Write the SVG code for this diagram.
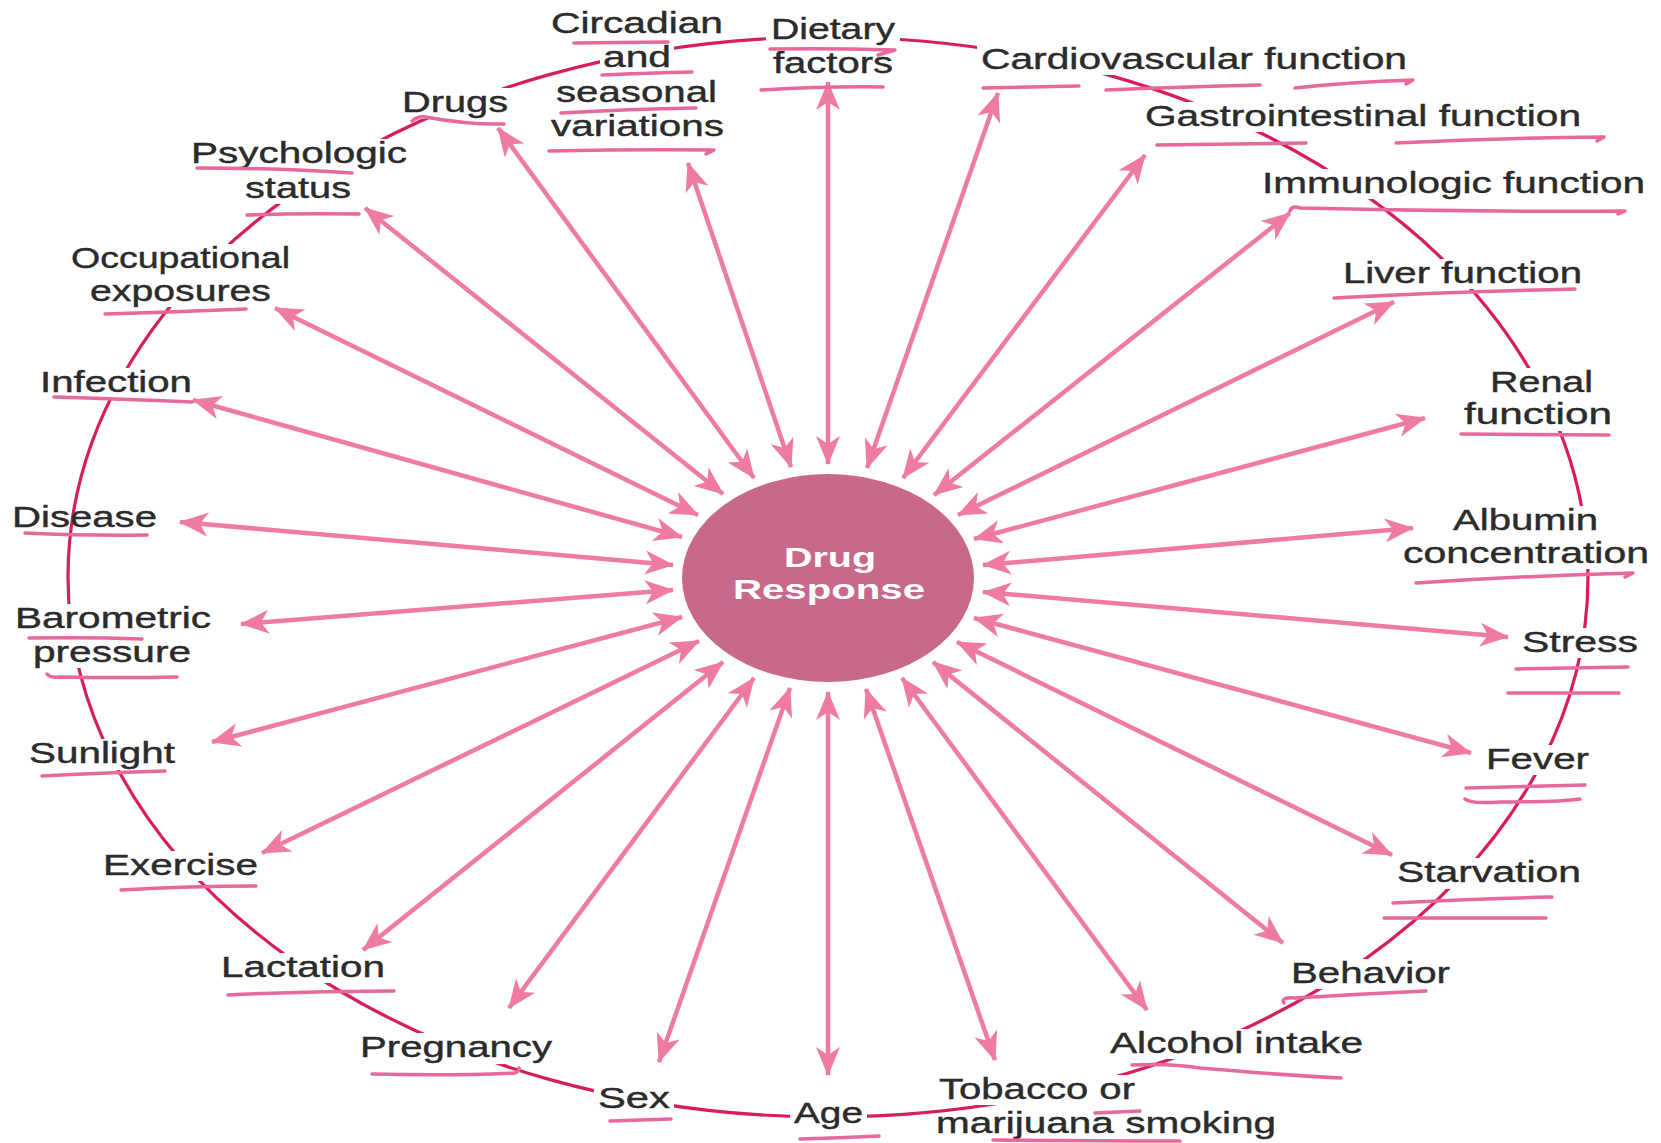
<svg xmlns="http://www.w3.org/2000/svg" width="1661" height="1143" viewBox="0 0 1661 1143">
<style>
.lbl{font-family:"Liberation Sans",Arial,Helvetica,sans-serif;font-size:29px;fill:#2b2b2b;stroke:#2b2b2b;stroke-width:0.4}
.bg{fill:#ffffff}
.ring{fill:none;stroke:#D91C5C;stroke-width:3.2}
.arr{stroke:#EF7BA2;stroke-width:4.5;fill:none;marker-start:url(#ah);marker-end:url(#ah)}
.ul{fill:none;stroke:#E8689B;stroke-width:3.5;stroke-linecap:round;stroke-linejoin:round}
.ctr{font-family:"Liberation Sans",Arial,Helvetica,sans-serif;font-size:28px;font-weight:bold;fill:#ffffff}
</style>
<defs>
<marker id="ah" viewBox="-30 -14 32 28" refX="0" refY="0" markerWidth="32" markerHeight="28" markerUnits="userSpaceOnUse" orient="auto-start-reverse">
<path d="M1,0 L-28,-12 L-20,0 L-28,12 Z" fill="#EF7BA2"/>
</marker>
</defs>
<rect width="1661" height="1143" fill="#ffffff"/>
<g id="ring"><ellipse class="ring" cx="828" cy="577" rx="760" ry="540"/></g>

<g id="labels">
<g id="n-circadian"><rect class="bg" x="600" y="45" width="74" height="28"/><text class="lbl" x="551" y="33" textLength="172" lengthAdjust="spacingAndGlyphs">Circadian</text><text class="lbl" x="603" y="67" textLength="68" lengthAdjust="spacingAndGlyphs">and</text><text class="lbl" x="556" y="102" textLength="161" lengthAdjust="spacingAndGlyphs">seasonal</text><text class="lbl" x="551" y="136" textLength="173" lengthAdjust="spacingAndGlyphs">variations</text></g>
<g id="n-dietary"><rect class="bg" x="766" y="15" width="134" height="64"/><text class="lbl" x="771" y="39" textLength="124" lengthAdjust="spacingAndGlyphs">Dietary</text><text class="lbl" x="773" y="73" textLength="120" lengthAdjust="spacingAndGlyphs">factors</text></g>
<g id="n-cardio"><rect class="bg" x="977" y="45" width="434" height="30"/><text class="lbl" x="981" y="69" textLength="426" lengthAdjust="spacingAndGlyphs">Cardiovascular function</text></g>
<g id="n-gastro"><rect class="bg" x="1141" y="102" width="444" height="30"/><text class="lbl" x="1145" y="126" textLength="436" lengthAdjust="spacingAndGlyphs">Gastrointestinal function</text></g>
<g id="n-immuno"><rect class="bg" x="1258" y="169" width="391" height="30"/><text class="lbl" x="1262" y="193" textLength="383" lengthAdjust="spacingAndGlyphs">Immunologic function</text></g>
<g id="n-liver"><rect class="bg" x="1339" y="259" width="247" height="30"/><text class="lbl" x="1343" y="283" textLength="239" lengthAdjust="spacingAndGlyphs">Liver function</text></g>
<g id="n-renal"><rect class="bg" x="1460" y="368" width="156" height="63"/><text class="lbl" x="1490" y="392" textLength="103" lengthAdjust="spacingAndGlyphs">Renal</text><text class="lbl" x="1464" y="424" textLength="148" lengthAdjust="spacingAndGlyphs">function</text></g>
<g id="n-albumin"><rect class="bg" x="1400" y="506" width="252" height="63"/><text class="lbl" x="1453" y="530" textLength="145" lengthAdjust="spacingAndGlyphs">Albumin</text><text class="lbl" x="1403" y="563" textLength="246" lengthAdjust="spacingAndGlyphs">concentration</text></g>
<g id="n-stress"><rect class="bg" x="1519" y="628" width="122" height="30"/><text class="lbl" x="1522" y="652" textLength="116" lengthAdjust="spacingAndGlyphs">Stress</text></g>
<g id="n-fever"><rect class="bg" x="1483" y="745" width="109" height="30"/><text class="lbl" x="1486" y="769" textLength="103" lengthAdjust="spacingAndGlyphs">Fever</text></g>
<g id="n-starvation"><rect class="bg" x="1394" y="858" width="190" height="31"/><text class="lbl" x="1397" y="882" textLength="184" lengthAdjust="spacingAndGlyphs">Starvation</text></g>
<g id="n-behavior"><rect class="bg" x="1288" y="959" width="165" height="30"/><text class="lbl" x="1291" y="983" textLength="159" lengthAdjust="spacingAndGlyphs">Behavior</text></g>
<g id="n-alcohol"><rect class="bg" x="1107" y="1029" width="259" height="30"/><text class="lbl" x="1110" y="1053" textLength="253" lengthAdjust="spacingAndGlyphs">Alcohol intake</text></g>
<g id="n-tobacco"><rect class="bg" x="934" y="1075" width="206" height="30"/><text class="lbl" x="939" y="1099" textLength="196" lengthAdjust="spacingAndGlyphs">Tobacco or</text><text class="lbl" x="936" y="1133" textLength="340" lengthAdjust="spacingAndGlyphs">marijuana smoking</text></g>
<g id="n-age"><rect class="bg" x="790" y="1099" width="77" height="31"/><text class="lbl" x="794" y="1123" textLength="69" lengthAdjust="spacingAndGlyphs">Age</text></g>
<g id="n-sex"><rect class="bg" x="594" y="1084" width="80" height="30"/><text class="lbl" x="598" y="1108" textLength="72" lengthAdjust="spacingAndGlyphs">Sex</text></g>
<g id="n-pregnancy"><rect class="bg" x="356" y="1033" width="200" height="31"/><text class="lbl" x="360" y="1057" textLength="192" lengthAdjust="spacingAndGlyphs">Pregnancy</text></g>
<g id="n-lactation"><rect class="bg" x="218" y="953" width="170" height="30"/><text class="lbl" x="221" y="977" textLength="164" lengthAdjust="spacingAndGlyphs">Lactation</text></g>
<g id="n-exercise"><rect class="bg" x="101" y="851" width="159" height="30"/><text class="lbl" x="103" y="875" textLength="155" lengthAdjust="spacingAndGlyphs">Exercise</text></g>
<g id="n-sunlight"><rect class="bg" x="26" y="739" width="152" height="31"/><text class="lbl" x="29" y="763" textLength="146" lengthAdjust="spacingAndGlyphs">Sunlight</text></g>
<g id="n-barometric"><rect class="bg" x="12" y="604" width="202" height="64"/><text class="lbl" x="15" y="628" textLength="196" lengthAdjust="spacingAndGlyphs">Barometric</text><text class="lbl" x="33" y="662" textLength="158" lengthAdjust="spacingAndGlyphs">pressure</text></g>
<g id="n-disease"><text class="lbl" x="12" y="527" textLength="145" lengthAdjust="spacingAndGlyphs">Disease</text></g>
<g id="n-infection"><rect class="bg" x="37" y="368" width="156" height="30"/><text class="lbl" x="40" y="392" textLength="152" lengthAdjust="spacingAndGlyphs">Infection</text></g>
<g id="n-occupational"><rect class="bg" x="68" y="244" width="225" height="63"/><text class="lbl" x="71" y="268" textLength="219" lengthAdjust="spacingAndGlyphs">Occupational</text><text class="lbl" x="90" y="301" textLength="181" lengthAdjust="spacingAndGlyphs">exposures</text></g>
<g id="n-psychologic"><rect class="bg" x="188" y="139" width="222" height="65"/><text class="lbl" x="191" y="163" textLength="216" lengthAdjust="spacingAndGlyphs">Psychologic</text><text class="lbl" x="245" y="198" textLength="106" lengthAdjust="spacingAndGlyphs">status</text></g>
<g id="n-drugs"><rect class="bg" x="399" y="88" width="112" height="31"/><text class="lbl" x="402" y="112" textLength="106" lengthAdjust="spacingAndGlyphs">Drugs</text></g>
</g>

<g id="connectors">
<line class="arr" x1="498" y1="128" x2="754" y2="478"/>
<line class="arr" x1="688" y1="163" x2="791" y2="467"/>
<line class="arr" x1="828" y1="82" x2="828" y2="464"/>
<line class="arr" x1="998" y1="93" x2="867" y2="468"/>
<line class="arr" x1="1145" y1="155" x2="903" y2="478"/>
<line class="arr" x1="1290" y1="213" x2="934" y2="495"/>
<line class="arr" x1="1394" y1="302" x2="958" y2="515"/>
<line class="arr" x1="1425" y1="418" x2="974" y2="539"/>
<line class="arr" x1="1413" y1="528" x2="983" y2="565"/>
<line class="arr" x1="1508" y1="637" x2="983" y2="592"/>
<line class="arr" x1="1471" y1="753" x2="974" y2="618"/>
<line class="arr" x1="1392" y1="855" x2="957" y2="642"/>
<line class="arr" x1="1283" y1="943" x2="933" y2="662"/>
<line class="arr" x1="1147" y1="1010" x2="902" y2="678"/>
<line class="arr" x1="995" y1="1060" x2="866" y2="689"/>
<line class="arr" x1="828" y1="1075" x2="828" y2="692"/>
<line class="arr" x1="659" y1="1062" x2="790" y2="688"/>
<line class="arr" x1="509" y1="1008" x2="754" y2="678"/>
<line class="arr" x1="363" y1="950" x2="723" y2="662"/>
<line class="arr" x1="262" y1="853" x2="699" y2="641"/>
<line class="arr" x1="212" y1="742" x2="682" y2="617"/>
<line class="arr" x1="241" y1="624" x2="673" y2="590"/>
<line class="arr" x1="180" y1="522" x2="673" y2="565"/>
<line class="arr" x1="193" y1="400" x2="682" y2="537"/>
<line class="arr" x1="275" y1="308" x2="698" y2="515"/>
<line class="arr" x1="365" y1="208" x2="723" y2="494"/>
</g>

<g id="n-center">
<ellipse cx="828" cy="578" rx="146" ry="104" fill="#C8698B"/>
<text class="ctr" x="784" y="567" textLength="92" lengthAdjust="spacingAndGlyphs">Drug</text>
<text class="ctr" x="733" y="599" textLength="192" lengthAdjust="spacingAndGlyphs">Response</text>
</g>

<g id="underlines">
<path class="ul" d="M574,43 L668,42"/>
<path class="ul" d="M602,75 Q650,73 692,72"/>
<path class="ul" d="M561,113 Q630,109 696,108"/>
<path class="ul" d="M549,151 Q640,149 714,150 L706,154"/>
<path class="ul" d="M770,49 Q830,48 895,50 L878,55"/>
<path class="ul" d="M761,90 Q830,86 883,87"/>
<path class="ul" d="M983,88 L1079,86"/>
<path class="ul" d="M1106,90 Q1180,87 1260,85"/>
<path class="ul" d="M1295,88 Q1350,82 1413,80 L1406,84"/>
<path class="ul" d="M1157,145 L1306,143"/>
<path class="ul" d="M1396,143 Q1500,138 1604,137 L1597,141"/>
<path class="ul" d="M1290,211 Q1292,205 1300,208 Q1460,212 1625,211 L1618,214"/>
<path class="ul" d="M1334,298 Q1450,292 1575,289"/>
<path class="ul" d="M1461,434 L1609,435"/>
<path class="ul" d="M1416,583 Q1520,576 1633,573 L1625,577"/>
<path class="ul" d="M1516,669 L1628,667"/>
<path class="ul" d="M1508,693 L1619,693"/>
<path class="ul" d="M1466,788 L1585,785"/>
<path class="ul" d="M1465,799 Q1470,804 1500,802 Q1560,802 1580,799"/>
<path class="ul" d="M1393,903 Q1470,899 1552,897"/>
<path class="ul" d="M1384,918 L1546,918"/>
<path class="ul" d="M1284,1003 Q1280,997 1295,998 Q1360,994 1426,991"/>
<path class="ul" d="M1132,1065 Q1170,1063 1200,1068 Q1280,1075 1341,1078"/>
<path class="ul" d="M1095,1113 L1140,1111"/>
<path class="ul" d="M993,1140 Q1090,1141 1180,1141"/>
<path class="ul" d="M800,1139 Q840,1138 879,1136"/>
<path class="ul" d="M610,1121 L671,1119"/>
<path class="ul" d="M372,1074 Q450,1076 515,1073 Q520,1071 519,1068"/>
<path class="ul" d="M228,995 Q310,991 394,991"/>
<path class="ul" d="M121,890 Q190,886 256,886"/>
<path class="ul" d="M42,776 Q100,773 165,771"/>
<path class="ul" d="M29,638 Q90,637 142,639"/>
<path class="ul" d="M47,674 Q50,678 60,677 Q120,678 177,677"/>
<path class="ul" d="M25,533 Q90,536 147,535"/>
<path class="ul" d="M54,397 Q120,399 192,402"/>
<path class="ul" d="M105,314 Q175,312 246,309"/>
<path class="ul" d="M247,215 Q300,213 359,214"/>
<path class="ul" d="M197,168 Q280,168 352,173"/>
<path class="ul" d="M412,121 Q418,116 425,117 Q470,125 504,124"/>
</g>
</svg>
